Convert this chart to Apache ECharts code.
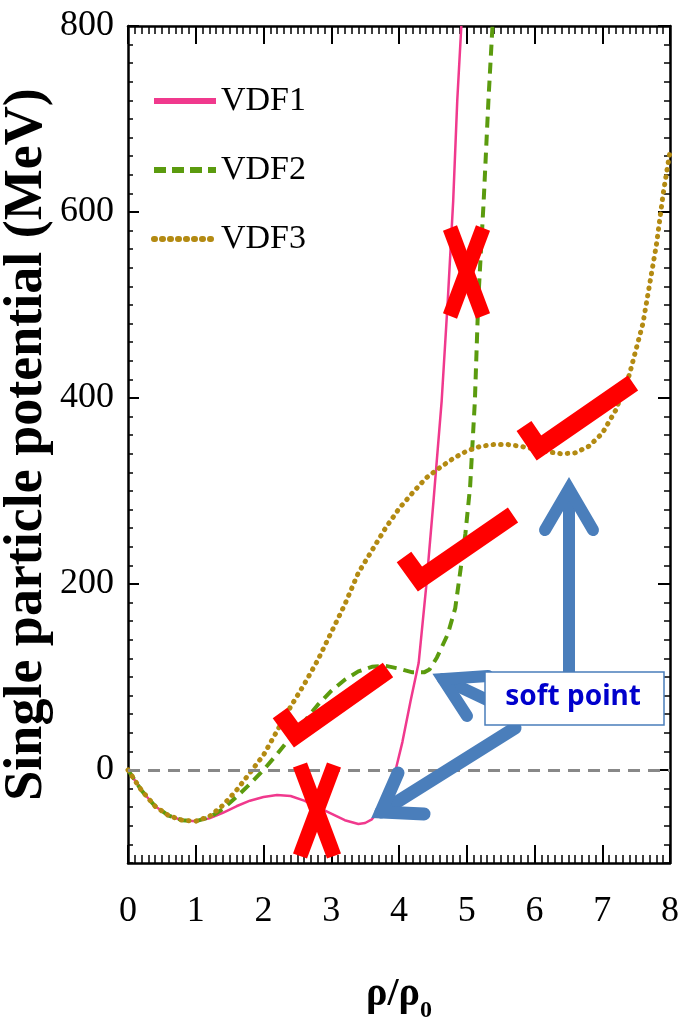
<!DOCTYPE html>
<html>
<head>
<meta charset="utf-8">
<script src="https://cdn.jsdelivr.net/npm/echarts@6/dist/echarts.min.js"></script>
<style>
html, body { margin: 0; padding: 0; background: #fff; }
#chart { width: 683px; height: 1022px; }
</style>
</head>
<body>
<div id="chart"></div>
<script>
// density rho/rho0 and potential (MeV)
var vdf1X = [0, 0.2, 0.4, 0.6, 0.8, 1.0, 1.2, 1.4, 1.6, 1.8, 2.0, 2.2, 2.4, 2.6, 2.8, 3.0, 3.2, 3.4, 3.5, 3.6, 3.7, 3.8, 3.9, 3.95, 4.05, 4.17, 4.29, 4.4, 4.51, 4.63, 4.72, 4.8, 4.86, 4.92];
var vdf1Y = [0, -22, -39, -49, -54, -55, -52, -46, -39, -33, -29, -27, -28, -33, -40, -47, -54, -58, -57, -53, -44, -30, -13, 0, 30, 74, 115, 196, 290, 397, 505, 612, 720, 800];

var vdf2X = [0, 0.2, 0.4, 0.6, 0.8, 1.0, 1.2, 1.4, 1.6, 1.8, 2.0, 2.2, 2.4, 2.6, 2.8, 3.0, 3.2, 3.4, 3.6, 3.8, 4.0, 4.2, 4.37, 4.45, 4.56, 4.72, 4.83, 4.9, 4.98, 5.05, 5.12, 5.17, 5.25, 5.32, 5.38];
var vdf2Y = [0, -22, -39, -49, -54, -55, -51, -42, -29, -15, 0, 17, 35, 52, 70, 85, 97, 106, 111, 112, 109, 105, 105, 108, 121, 146, 174, 211, 254, 305, 397, 505, 612, 720, 800];

var vdf3X = [0, 0.2, 0.4, 0.6, 0.8, 1.0, 1.2, 1.4, 1.6, 1.8, 2.0, 2.2, 2.4, 2.6, 2.8, 3.0, 3.2, 3.4, 3.6, 3.8, 4.0, 4.2, 4.4, 4.6, 4.8, 5.0, 5.2, 5.4, 5.6, 5.8, 6.0, 6.2, 6.4, 6.6, 6.8, 7.0, 7.2, 7.4, 7.6, 7.8, 7.9, 8.0];
var vdf3Y = [0, -22, -39, -49, -54, -55, -50, -38, -22, -3, 16, 42, 68, 92, 118, 148, 178, 212, 236, 260, 281, 298, 314, 325, 335, 343, 348, 350, 350, 348, 345, 342, 340, 341, 348, 362, 387, 425, 480, 565, 620, 665];

var seriesNames = ['VDF1', 'VDF2', 'VDF3'];
var yTickLabels = [0, 200, 400, 600, 800];

function pairs(xs, ys) {
    var out = [];
    for (var i = 0; i < xs.length; i++) {
        out.push([xs[i], ys[i]]);
    }
    return out;
}

var chart = echarts.init(document.getElementById('chart'));

var serif = 'Liberation Serif';
var red = '#ff0000';
var blue = '#4a7ebb';

// frame axes: bottom/left carry labels, top/right only ticks
function frameX(pos, showLabel) {
    return {
        type: 'value', position: pos, min: 0, max: 8, interval: 1,
        axisLine: { show: true, onZero: false, lineStyle: { color: '#000', width: 2.5 } },
        axisTick: { show: true, inside: true, length: 18, lineStyle: { color: '#000', width: 2 } },
        minorTick: { show: true, splitNumber: 10, length: 8, lineStyle: { color: '#000', width: 1.5 } },
        splitLine: { show: false },
        axisLabel: { show: showLabel, margin: 31, fontFamily: serif, fontSize: 36, color: '#000' }
    };
}
// y: short ticks every 20, labels only at the listed values
function frameY(pos, showLabel, len) {
    return {
        type: 'value', position: pos, min: -100, max: 800, interval: 20,
        axisLine: { show: true, onZero: false, lineStyle: { color: '#000', width: 2.5 } },
        axisTick: { show: true, inside: true, length: len, lineStyle: { color: '#000', width: 1.5 } },
        splitLine: { show: false },
        axisLabel: {
            show: showLabel, margin: 14, fontFamily: serif, fontSize: 36, color: '#000',
            customValues: yTickLabels
        }
    };
}
// y: long ticks at the labelled values only
function majorY(pos, len) {
    return {
        type: 'value', position: pos, min: -100, max: 800, interval: 20,
        axisLine: { show: false, onZero: false },
        axisTick: { show: true, inside: true, length: len, customValues: yTickLabels, lineStyle: { color: '#000', width: 2 } },
        splitLine: { show: false },
        axisLabel: { show: false }
    };
}

var xBottom = frameX('bottom', true);
xBottom.name = '{a|ρ/ρ}{b|0}';
xBottom.nameLocation = 'middle';
xBottom.nameGap = 104;
xBottom.nameMoveOverlap = false;
xBottom.nameTextStyle = {
    rich: {
        a: { fontFamily: serif, fontWeight: 'bold', fontSize: 40, lineHeight: 56, verticalAlign: 'middle', color: '#000' },
        b: { fontFamily: serif, fontWeight: 'bold', fontSize: 24, lineHeight: 56, verticalAlign: 'bottom', color: '#000' }
    }
};

var yLeft = frameY('left', true, 5);
yLeft.name = 'Single particle potential (MeV)';
yLeft.nameLocation = 'middle';
yLeft.nameGap = 74;
yLeft.nameMoveOverlap = false;
yLeft.nameTextStyle = { fontFamily: serif, fontWeight: 'bold', fontSize: 54, color: '#000' };

var option = {
    animation: false,
    backgroundColor: '#fff',
    grid: { left: 128, right: 13, top: 26, bottom: 159, outerBoundsMode: 'none' },
    legend: {
        orient: 'vertical', left: 146, top: 79,
        itemWidth: 62, itemHeight: 14, itemGap: 35,
        textStyle: { fontFamily: serif, fontSize: 34, color: '#000', lineHeight: 34 },
        itemStyle: { opacity: 0 },
        lineStyle: { width: 6 },
        data: [
            { name: seriesNames[0] },
            { name: seriesNames[1], lineStyle: { type: [12, 6] } },
            { name: seriesNames[2], lineStyle: { type: [1, 7], cap: 'round' } }
        ]
    },
    xAxis: [xBottom, frameX('top', false)],
    yAxis: [yLeft, frameY('right', false, 6), majorY('left', 11), majorY('right', 12)],
    series: [{
        name: seriesNames[0], type: 'line', symbol: 'none',
        data: pairs(vdf1X, vdf1Y),
        lineStyle: { color: '#f0398d', width: 2.5 },
        itemStyle: { color: '#f0398d' },
        markLine: {
            silent: true, symbol: ['none', 'none'],
            label: { show: false },
            lineStyle: { color: '#888', width: 3, type: [12, 8] },
            data: [{ yAxis: 0 }]
        }
    }, {
        name: seriesNames[1], type: 'line', symbol: 'none',
        data: pairs(vdf2X, vdf2Y),
        lineStyle: { color: '#5b9b0e', width: 4, type: [11, 7] },
        itemStyle: { color: '#5b9b0e' }
    }, {
        name: seriesNames[2], type: 'line', symbol: 'none',
        data: pairs(vdf3X, vdf3Y),
        lineStyle: { color: '#b38a12', width: 5, type: [0.5, 7], cap: 'round' },
        itemStyle: { color: '#b38a12' }
    }],
    graphic: []
};

// hand-drawn annotations laid over the plot
function mark(points, width, color, cap) {
    return {
        type: 'polyline', z: 100,
        shape: { points: points },
        style: { stroke: color, lineWidth: width, fill: null, lineCap: cap || 'butt', lineJoin: 'miter' }
    };
}
var g = option.graphic;
// red crosses
g.push(mark([[300, 765], [334, 856]], 15, red));
g.push(mark([[334, 765], [300, 856]], 15, red));
g.push(mark([[450, 228], [483, 316]], 15, red));
g.push(mark([[483, 228], [450, 316]], 15, red));
// red ticks
g.push(mark([[280, 713], [296, 735], [388, 670]], 18, red));
g.push(mark([[404, 557], [420, 579], [513, 515]], 18, red));
g.push(mark([[524, 426], [539, 448], [633, 383]], 18, red));
// blue arrows
g.push(mark([[569, 688], [569, 492]], 12, blue, 'round'));
g.push(mark([[545, 530], [569, 489], [593, 530]], 12, blue, 'round'));
g.push(mark([[500, 706], [443, 679]], 12, blue, 'round'));
g.push(mark([[488, 676], [443, 679], [467, 716]], 12, blue, 'round'));
g.push(mark([[515, 728], [381, 812]], 13, blue, 'round'));
g.push(mark([[398, 773], [381, 812], [424, 814]], 13, blue, 'round'));
// label box
g.push({
    type: 'rect', z: 101,
    shape: { x: 485, y: 672, width: 179, height: 53 },
    style: { fill: '#fff', stroke: blue, lineWidth: 1.5 }
});
g.push({
    type: 'text', z: 102, x: 573, y: 697,
    style: {
        text: 'soft point', fill: '#0000cc', align: 'center', verticalAlign: 'middle',
        font: 'bold 28px "Noto Sans"'
    }
});

chart.setOption(option);
</script>
</body>
</html>
